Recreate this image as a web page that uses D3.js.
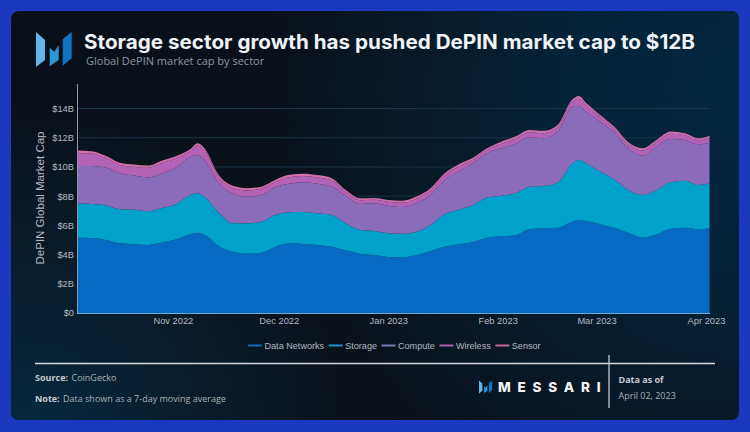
<!DOCTYPE html>
<html>
<head>
<meta charset="utf-8">
<script src="https://cdnjs.cloudflare.com/ajax/libs/d3/7.8.5/d3.min.js"></script>
<style>
html, body { margin: 0; padding: 0; background: #1b38bf; }
svg { display: block; }
text { font-family: "Liberation Sans", Arial, sans-serif; }
.soft { font-family: "Open Sans", sans-serif; }
</style>
</head>
<body>
<svg id="chart" width="750" height="432"></svg>
<script>
var dates = ["2022-10-05","2022-10-09","2022-10-13","2022-10-17","2022-10-21","2022-10-25","2022-10-29","2022-11-02","2022-11-06","2022-11-08","2022-11-10","2022-11-14","2022-11-18","2022-11-22","2022-11-26","2022-11-30","2022-12-04","2022-12-08","2022-12-12","2022-12-16","2022-12-20","2022-12-24","2022-12-28","2023-01-01","2023-01-05","2023-01-09","2023-01-13","2023-01-17","2023-01-21","2023-01-25","2023-01-29","2023-02-02","2023-02-06","2023-02-10","2023-02-14","2023-02-18","2023-02-22","2023-02-24","2023-02-26","2023-03-02","2023-03-06","2023-03-10","2023-03-14","2023-03-18","2023-03-22","2023-03-26","2023-03-30","2023-04-02"];
var dataNetworks = [5.16,5.14,5.00,4.77,4.71,4.66,4.82,5.05,5.39,5.50,5.34,4.59,4.20,4.06,4.13,4.52,4.75,4.73,4.66,4.54,4.29,4.06,3.97,3.84,3.82,3.97,4.25,4.54,4.71,4.86,5.16,5.25,5.32,5.73,5.80,5.84,6.25,6.37,6.30,6.08,5.84,5.50,5.16,5.39,5.77,5.84,5.73,5.80];
var storage = [2.36,2.33,2.38,2.33,2.35,2.31,2.36,2.42,2.69,2.70,2.62,2.28,1.95,2.08,2.12,2.19,2.15,2.19,2.17,2.17,1.85,1.62,1.64,1.62,1.60,1.60,1.78,2.22,2.35,2.53,2.74,2.78,2.88,2.92,2.90,3.08,3.95,4.11,3.95,3.60,3.32,2.92,2.92,3.03,3.18,3.22,3.03,3.08];
var compute = [2.55,2.60,2.58,2.47,2.35,2.30,2.38,2.51,2.62,2.62,2.51,2.01,2.01,1.82,1.83,1.90,1.94,2.03,2.01,1.94,1.87,1.78,1.90,1.89,1.83,1.95,2.05,2.35,2.62,2.86,3.04,3.25,3.38,3.38,3.27,3.49,3.88,3.70,3.53,3.42,3.22,2.86,2.69,2.97,2.97,2.79,2.79,2.78];
var wireless = [.89,.85,.65,.57,.61,.67,.72,.62,.39,.64,.64,.42,.40,.43,.42,.36,.46,.43,.44,.43,.28,.26,.24,.26,.29,.31,.31,.31,.36,.25,.22,.31,.35,.34,.34,.31,.34,.49,.44,.31,.25,.27,.36,.32,.35,.32,.28,.34];
var sensor = [.16,.16,.15,.14,.14,.15,.16,.15,.14,.16,.16,.15,.15,.15,.15,.14,.16,.16,.16,.15,.13,.13,.12,.13,.14,.14,.15,.15,.15,.13,.12,.14,.15,.16,.16,.15,.16,.19,.18,.15,.13,.14,.15,.14,.15,.14,.13,.14];

var seriesNames = ["Data Networks","Storage","Compute","Wireless","Sensor"];
var seriesValues = [dataNetworks, storage, compute, wireless, sensor];
var seriesColors = ["#0669c2","#00a2cc","#8a6cbb","#b263b6","#d06fa9"];
var legendColors = ["#0a6ab5","#0a9ac4","#7d76b8","#a85fb5","#c9689f"];
var yTicks = [0,2,4,6,8,10,12,14];
var xTickDates = ["2022-11-01","2022-12-01","2023-01-01","2023-02-01","2023-03-01","2023-04-01"];

var svg = d3.select("#chart");
var parseDay = d3.utcParse("%Y-%m-%d");

// card background: dark base, navy glow top right, navy glow bottom left
var defs = svg.append("defs");
var g1 = defs.append("radialGradient").attr("id","glowRight").attr("gradientUnits","userSpaceOnUse")
	.attr("cx",740).attr("cy",90).attr("r",480);
g1.append("stop").attr("offset","0").attr("stop-color","#03263f").attr("stop-opacity",1);
g1.append("stop").attr("offset","0.35").attr("stop-color","#03263f").attr("stop-opacity",0.85);
g1.append("stop").attr("offset","1").attr("stop-color","#03263f").attr("stop-opacity",0);
var g2 = defs.append("radialGradient").attr("id","glowLeft").attr("gradientUnits","userSpaceOnUse")
	.attr("cx",30).attr("cy",430).attr("r",330);
g2.append("stop").attr("offset","0").attr("stop-color","#06283f").attr("stop-opacity",1);
g2.append("stop").attr("offset","1").attr("stop-color","#06283f").attr("stop-opacity",0);

function card(fill) {
	svg.append("rect").attr("x",11).attr("y",11).attr("width",728).attr("height",409).attr("rx",8).attr("fill",fill);
}
card("#0a1019");
card("url(#glowLeft)");
card("url(#glowRight)");

// logo, drawn at the given offset and scale
function logo(x, y, k) {
	var l = svg.append("g").attr("transform","translate("+x+","+y+") scale("+k+")");
	var blades = [
		{p:"0,0 9,8 9,28 0,35", c:"#62b5e8"},
		{p:"13.7,15.7 18.3,19.7 22.7,13 22.7,28 13.7,34", c:"#2f98d4"},
		{p:"35.7,0 26.7,7.3 26.7,33.7 35.7,26.3", c:"#1273c4"}
	];
	l.selectAll("polygon").data(blades).enter().append("polygon")
		.attr("points",function(d){ return d.p; })
		.attr("fill",function(d){ return d.c; });
}
logo(36, 32, 1);
logo(479, 380.5, 0.37);

// heading
svg.append("text").attr("x",84).attr("y",48.5).attr("fill","#eef3f7")
	.attr("textLength",611).attr("lengthAdjust","spacingAndGlyphs")
	.style("font-family","Inter, sans-serif").style("font-weight",700).style("font-size","19.5px")
	.text("Storage sector growth has pushed DePIN market cap to $12B");
svg.append("text").attr("class","soft").attr("x",86).attr("y",65).attr("fill","#8b97a3")
	.style("font-size","11px").text("Global DePIN market cap by sector");

// plot
var x = d3.scaleUtc().domain([parseDay("2022-10-05"), parseDay("2023-04-02")]).range([77.5, 709.5]);
var y = d3.scaleLinear().domain([0,14]).range([313, 108.5]);

var rows = dates.map(function(d,i){
	var row = {date: parseDay(d)};
	seriesNames.forEach(function(name,j){ row[name] = seriesValues[j][i]; });
	return row;
});

svg.append("g").selectAll("line").data(yTicks.slice(1)).enter().append("line")
	.attr("x1",x.range()[0]).attr("x2",x.range()[1])
	.attr("y1",function(d){ return y(d); }).attr("y2",function(d){ return y(d); })
	.attr("stroke","#1c3246").attr("stroke-width",1);

var stacked = d3.stack().keys(seriesNames)(rows);
var area = d3.area().curve(d3.curveMonotoneX)
	.x(function(d){ return x(d.data.date); })
	.y0(function(d){ return y(d[0]); })
	.y1(function(d){ return y(d[1]); });

svg.append("g").selectAll("path").data(stacked).enter().append("path")
	.attr("d",area)
	.attr("fill",function(d,i){ return seriesColors[i]; });

// axes
var yAxis = d3.axisLeft(y).tickValues(yTicks).tickSize(0).tickPadding(2)
	.tickFormat(function(d){ return d === 0 ? "$0" : "$"+d+"B"; });
var yG = svg.append("g").attr("transform","translate(76,0)").call(yAxis);
yG.select(".domain").remove();
yG.selectAll("text").attr("fill","#b4b9c0").style("font-size","9.3px").style("font-family","'Liberation Sans', Arial, sans-serif");

var xAxis = d3.axisBottom(x).tickValues(xTickDates.map(parseDay)).tickSize(0).tickPadding(4)
	.tickFormat(d3.utcFormat("%b %Y"));
var xG = svg.append("g").attr("transform","translate(0,313)").call(xAxis);
xG.select(".domain").remove();
xG.selectAll("text").attr("fill","#b4b9c0").style("font-size","9.3px").style("font-family","'Liberation Sans', Arial, sans-serif");

svg.append("line").attr("x1",77.5).attr("x2",77.5).attr("y1",84).attr("y2",313.5).attr("stroke","#8e99a5").attr("stroke-width",1);
svg.append("line").attr("x1",77).attr("x2",710).attr("y1",313.5).attr("y2",313.5).attr("stroke","#7ea6c8").attr("stroke-width",1);

svg.append("text").attr("transform","translate(44,198) rotate(-90)").attr("text-anchor","middle")
	.attr("fill","#b4b9c0").style("font-size","11.5px").text("DePIN Global Market Cap");

// legend
var legendX = 248;
seriesNames.forEach(function(name,i){
	svg.append("line").attr("x1",legendX).attr("x2",legendX+14).attr("y1",345.5).attr("y2",345.5)
		.attr("stroke",legendColors[i]).attr("stroke-width",2);
	var t = svg.append("text").attr("x",legendX+16.5).attr("y",349).attr("fill","#b4b9c0")
		.style("font-size","9.1px").text(name);
	legendX += 16.5 + t.node().getComputedTextLength() + 4.5;
});

// footer
svg.append("line").attr("x1",35).attr("x2",715).attr("y1",363.5).attr("y2",363.5).attr("stroke","#d5d9dd").attr("stroke-width",1.3);
svg.append("line").attr("x1",609).attr("x2",609).attr("y1",355).attr("y2",408).attr("stroke","#c3c8cd").attr("stroke-width",1.3);

function footerText(px, py, label, bold, color) {
	svg.append("text").attr("class","soft").attr("x",px).attr("y",py).attr("fill",color)
		.style("font-size","9px").style("font-weight",bold ? 700 : 400).text(label);
}
footerText(35, 381, "Source:", true, "#c6ccd2");
footerText(71.5, 381, "CoinGecko", false, "#a8b1b9");
footerText(35, 402, "Note:", true, "#c6ccd2");
footerText(63, 402, "Data shown as a 7-day moving average", false, "#a8b1b9");
footerText(618.5, 383, "Data as of", true, "#c6ccd2");
footerText(618.5, 399, "April 02, 2023", false, "#a8b1b9");

svg.append("text").attr("x",498).attr("y",391.7).attr("fill","#f2f4f6")
	.style("font-family","Inter, sans-serif").style("font-weight",800).style("font-size","13.5px").style("letter-spacing","6.8px")
	.text("MESSARI");
</script>
</body>
</html>
